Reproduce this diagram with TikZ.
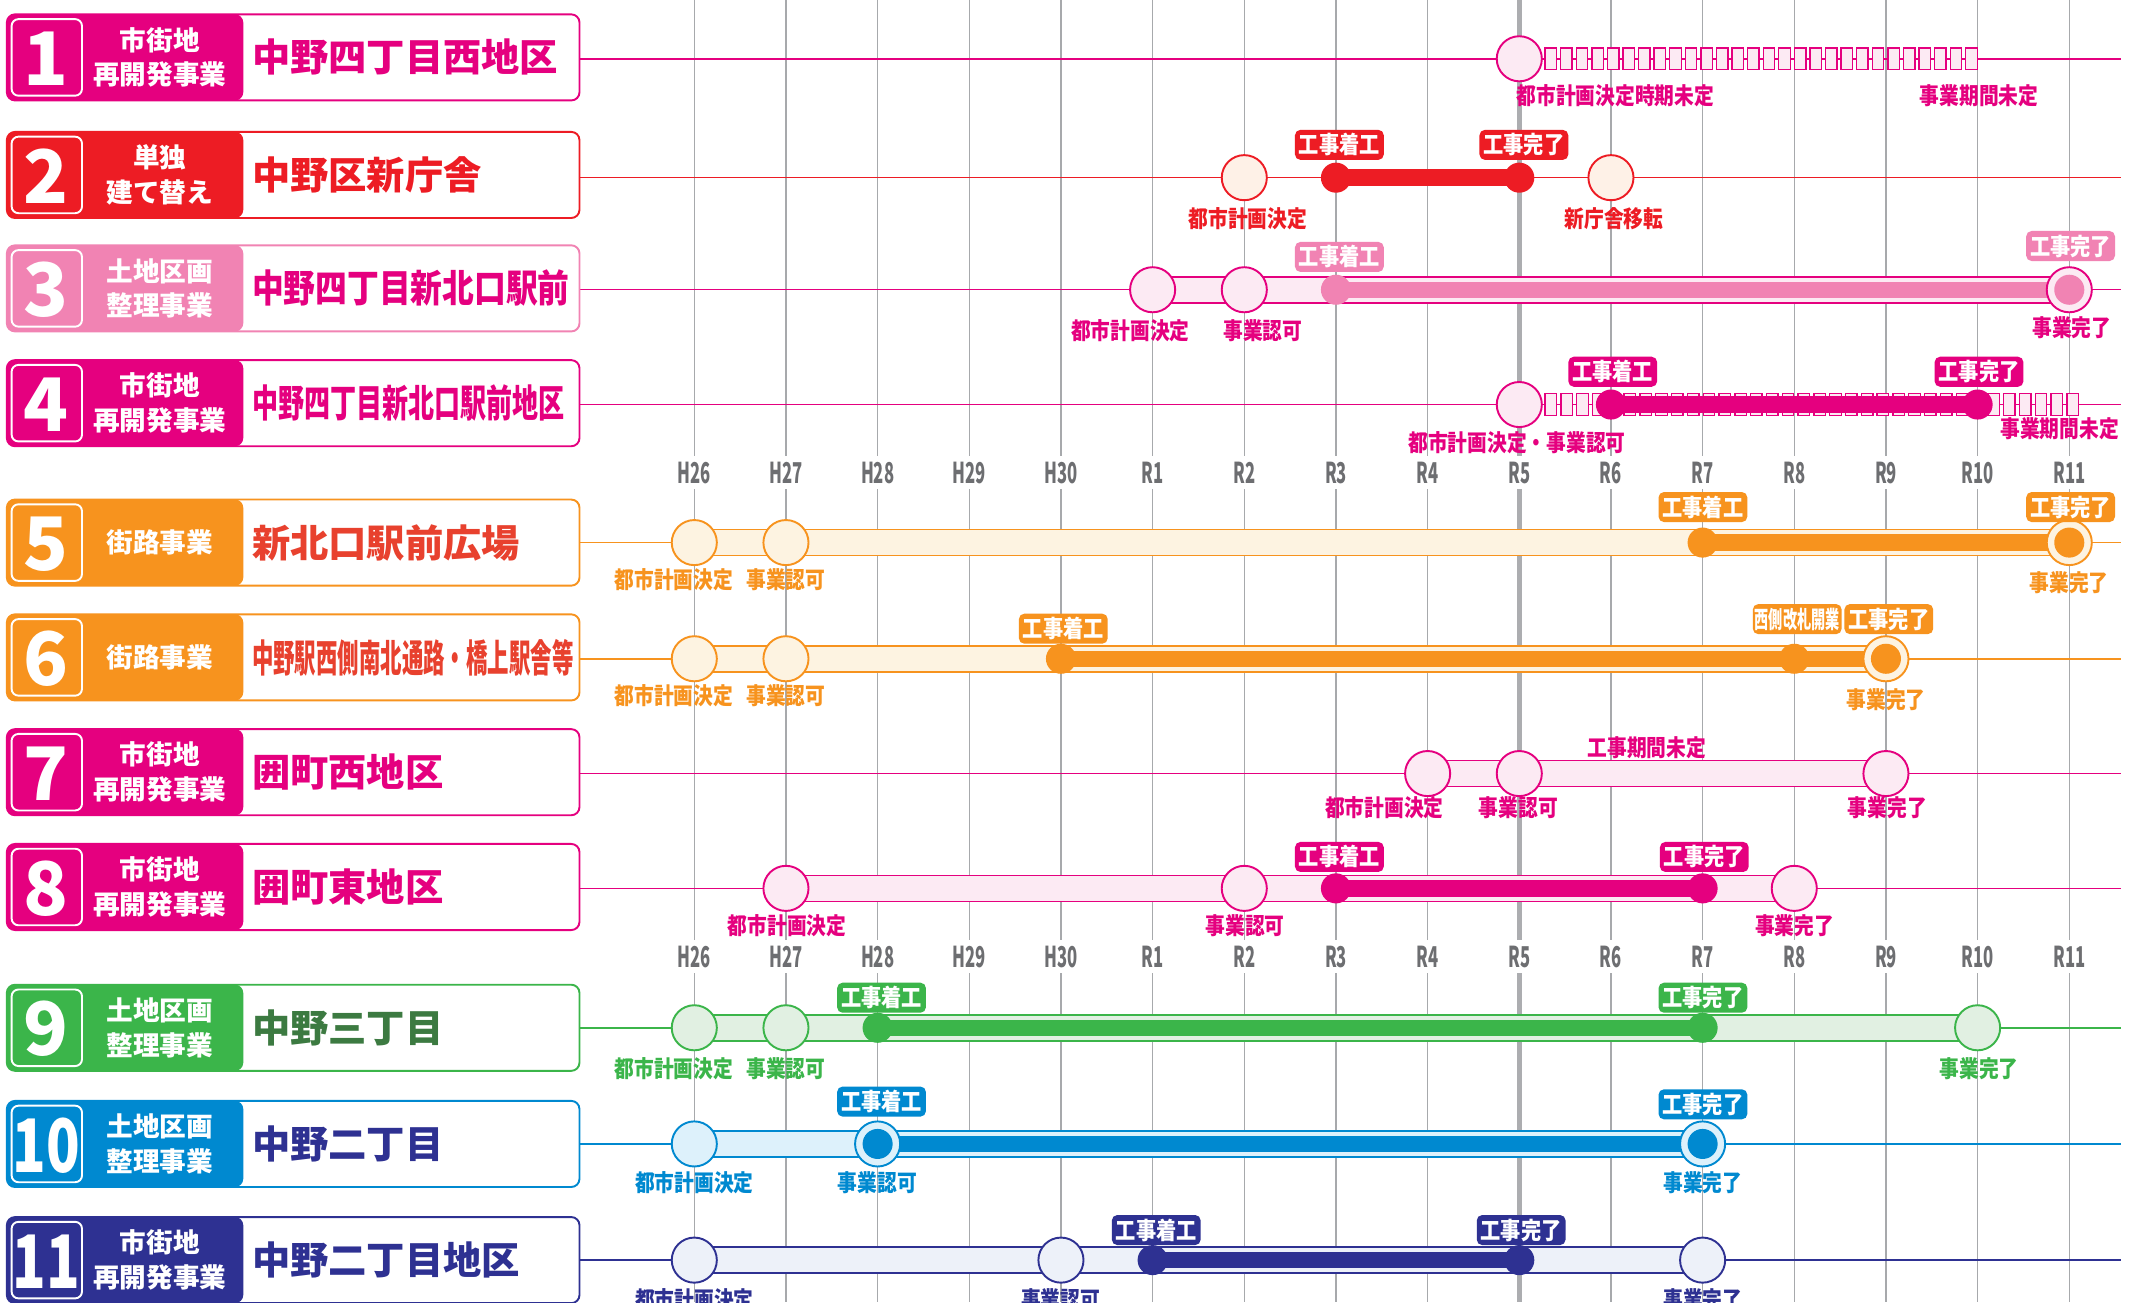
\documentclass[tikz,border=0pt]{standalone}
\usepackage{fontspec}
\setmainfont{Noto Sans CJK JP}
\newfontfamily\jpc{Noto Sans CJK JP}[FakeStretch=0.85]
\newfontfamily\axf{Noto Sans CJK JP}[FakeStretch=0.58]
\definecolor{mag}{HTML}{E5007F}
\definecolor{lmag}{HTML}{FCEAF3}
\definecolor{cred}{HTML}{ED1C24}
\definecolor{lred}{HTML}{FEF1E7}
\definecolor{cpink}{HTML}{F183B3}
\definecolor{cora}{HTML}{F7931E}
\definecolor{lora}{HTML}{FDF3E1}
\definecolor{ttred}{HTML}{E8412E}
\definecolor{cgrn}{HTML}{3BB54A}
\definecolor{lgrn}{HTML}{E1F0E2}
\definecolor{dgrn}{HTML}{3C7A41}
\definecolor{cblu}{HTML}{0089D0}
\definecolor{lblu}{HTML}{DDF1FB}
\definecolor{cnav}{HTML}{2E3192}
\definecolor{lnav}{HTML}{EDF1F9}
\definecolor{gridc}{HTML}{A7A9AC}
\definecolor{r5c}{HTML}{ACADB0}
\definecolor{axc}{HTML}{6D6E71}
\tikzset{
 ocirc/.style={circle, minimum size=16.5pt, inner sep=0pt, line width=0.7pt, draw},
 dotst/.style={circle, minimum size=11pt, inner sep=0pt},
 tagst/.style={rectangle, rounded corners=2pt, minimum width=32.5pt, minimum height=11pt, inner sep=0pt, text=white, font=\jpc\bfseries\fontsize{8.7}{9}\selectfont},
 lblst/.style={inner sep=0pt, font=\jpc\bfseries\fontsize{8.5}{9}\selectfont},
 axl/.style={inner sep=0pt, text=axc, font=\axf\bfseries\fontsize{10.5}{11}\selectfont},
 numtxt/.style={inner sep=0pt, text=white, font=\bfseries\fontsize{27}{27}\selectfont},
 cattxt/.style={inner sep=0pt, text=white, align=center, font=\bfseries\fontsize{9.75}{12.75}\selectfont},
 titletxt/.style={inner sep=0pt, anchor=west, font=\bfseries\fontsize{14}{16}\selectfont},
 rowline/.style={line width=0.55pt},
}
\newcommand\ya[1]{508+67.07*#1}
% left box: y, color, number, category, title, title colour, name
\newcommand\leftbox[7]{%
 \filldraw[draw=#2, fill=white, line width=0.7pt, rounded corners=3pt] (5,#1-31.5) rectangle (424,#1+31.5);
 \fill[#2, rounded corners=3pt] (5,#1-31.5) rectangle (178,#1+31.5);
 \draw[white, line width=0.7pt, rounded corners=2.5pt] (8.5,#1-28) rectangle (60,#1+28);
 \node[numtxt] (#7n) at (34,#1+1) {#3};
 \node[cattxt] (#7c) at (117,#1) {#4};
 \node[titletxt, text=#6] (#7t) at (184,#1) {#5};
}
\newcommand\lbar[5]{\filldraw[fill=#2,draw=#1,line width=0.6pt] ({\ya{#4}},#3-9.5) rectangle ({\ya{#5}},#3+9.5);}
\newcommand\dbar[4]{\fill[#1] ({\ya{#3}},#2-6) rectangle ({\ya{#4}},#2+6);}
\newcommand\oc[5]{\node[ocirc, draw=#1, fill=#2] (#5) at ({\ya{#4}},#3) {};}
\newcommand\dt[4]{\node[dotst, fill=#1] (#4) at ({\ya{#3}},#2) {};}
\newcommand\tg[5]{\node[tagst, fill=#1] (#5) at (#2,#3) {#4};}
\newcommand\lb[5]{\node[lblst, text=#1] (#5) at (#2,#3) {#4};}
\newcommand\chain[4]{\foreach \i in {1,...,#3} {\filldraw[fill=lmag, draw=mag, line width=0.5pt] ({#2+#4*(\i-1)},#1-8) rectangle ({#2+#4*(\i-1)+8.4},#1+8);}}
\begin{document}
\begin{tikzpicture}[x=0.5pt,y=-0.5pt]
\fill[white] (0,0) rectangle (1568,953);
\useasboundingbox (0,0) rectangle (1568,953);
\clip (0,0) rectangle (1568,953);
% grid
\foreach \k in {0,...,15} {
  \draw[gridc, line width=0.45pt] ({\ya{\k}},0) -- ({\ya{\k}},334);
  \draw[gridc, line width=0.45pt] ({\ya{\k}},358) -- ({\ya{\k}},688);
  \draw[gridc, line width=0.45pt] ({\ya{\k}},712) -- ({\ya{\k}},953);
}
\draw[r5c, line width=2pt] ({\ya{9}},0) -- ({\ya{9}},334);
\draw[r5c, line width=2pt] ({\ya{9}},358) -- ({\ya{9}},688);
\draw[r5c, line width=2pt] ({\ya{9}},712) -- ({\ya{9}},953);
\foreach \k/\t in {0/H26,1/H27,2/H28,3/H29,4/H30,5/R1,6/R2,7/R3,8/R4,9/R5,10/R6,11/R7,12/R8,13/R9,14/R10,15/R11} {
  \node[axl] (axa\k) at ({\ya{\k}},346) {\t};
  \node[axl] (axb\k) at ({\ya{\k}},700) {\t};
}
% row lines
\foreach \y/\c in {43/mag,130/cred,212/mag,296/mag,397/cora,482/cora,566/mag,650/mag,752/cgrn,837/cblu,922/cnav}
  \draw[\c, rowline] (424,\y) -- (1552,\y);
% left boxes
\leftbox{42}{mag}{1}{市街地\\再開発事業}{中野四丁目西地区}{mag}{b1}
\leftbox{128}{cred}{2}{単独\\建て替え}{中野区新庁舎}{cred}{b2}
\leftbox{211}{cpink}{3}{土地区画\\整理事業}{\scalebox{0.83}[1]{中野四丁目新北口駅前}}{mag}{b3}
\leftbox{295}{mag}{4}{市街地\\再開発事業}{\scalebox{0.68}[1]{中野四丁目新北口駅前地区}}{mag}{b4}
\leftbox{397}{cora}{5}{街路事業}{新北口駅前広場}{ttred}{b5}
\leftbox{481}{cora}{6}{街路事業}{\scalebox{0.56}[1]{中野駅西側南北通路・橋上駅舎等}}{ttred}{b6}
\leftbox{565}{mag}{7}{市街地\\再開発事業}{囲町西地区}{mag}{b7}
\leftbox{649}{mag}{8}{市街地\\再開発事業}{囲町東地区}{mag}{b8}
\leftbox{752}{cgrn}{9}{土地区画\\整理事業}{中野三丁目}{dgrn}{b9}
\leftbox{837}{cblu}{\scalebox{0.75}[1]{10}}{土地区画\\整理事業}{中野二丁目}{cnav}{b10}
\leftbox{922}{cnav}{\scalebox{0.75}[1]{11}}{市街地\\再開発事業}{中野二丁目地区}{cnav}{b11}
% row 1
\chain{43}{1130.5}{28}{11.4}
\oc{mag}{lmag}{43}{9}{r1a}
\lb{mag}{1182}{70}{都市計画決定時期未定}{r1l1}
\lb{mag}{1448}{70}{事業期間未定}{r1l2}
% row 2
\dbar{cred}{130}{7}{9}
\oc{cred}{lred}{130}{6}{r2a}
\oc{cred}{lred}{130}{10}{r2b}
\dt{cred}{130}{7}{r2c}
\dt{cred}{130}{9}{r2d}
\tg{cred}{980}{106}{工事着工}{r2t1}
\tg{cred}{1115}{106}{工事完了}{r2t2}
\lb{cred}{913}{160}{都市計画決定}{r2l1}
\lb{cred}{1181}{160}{新庁舎移転}{r2l2}
% row 3
\lbar{mag}{lmag}{212}{5}{15}
\dbar{cpink}{212}{7}{15}
\oc{mag}{lmag}{212}{5}{r3a}
\oc{mag}{lmag}{212}{6}{r3b}
\dt{cpink}{212}{7}{r3c}
\oc{mag}{lmag}{212}{15}{r3d}
\dt{cpink}{212}{15}{r3e}
\tg{cpink}{980}{188}{工事着工}{r3t1}
\tg{cpink}{1515}{180}{工事完了}{r3t2}
\lb{mag}{827}{242}{都市計画決定}{r3l1}
\lb{mag}{924}{242}{事業認可}{r3l2}
\lb{mag}{1516}{240}{事業完了}{r3l3}
% row 4
\chain{296}{1130.5}{34}{11.57}
\dbar{mag}{296}{10}{14}
\oc{mag}{lmag}{296}{9}{r4a}
\dt{mag}{296}{10}{r4b}
\dt{mag}{296}{14}{r4c}
\tg{mag}{1180}{272}{工事着工}{r4t1}
\tg{mag}{1448}{272}{工事完了}{r4t2}
\lb{mag}{1110}{324}{都市計画決定・事業認可}{r4l1}
\lb{mag}{1507}{314}{事業期間未定}{r4l2}
% row 5
\lbar{cora}{lora}{397}{0}{15}
\dbar{cora}{397}{11}{15}
\oc{cora}{lora}{397}{0}{r5a}
\oc{cora}{lora}{397}{1}{r5b}
\dt{cora}{397}{11}{r5c}
\oc{cora}{lora}{397}{15}{r5d}
\dt{cora}{397}{15}{r5e}
\tg{cora}{1246}{371}{工事着工}{r5t1}
\tg{cora}{1515}{371}{工事完了}{r5t2}
\lb{cora}{493}{424}{都市計画決定}{r5l1}
\lb{cora}{575}{424}{事業認可}{r5l2}
\lb{cora}{1514}{426}{事業完了}{r5l3}
% row 6
\lbar{cora}{lora}{482}{0}{13}
\dbar{cora}{482}{4}{13}
\oc{cora}{lora}{482}{0}{r6a}
\oc{cora}{lora}{482}{1}{r6b}
\dt{cora}{482}{4}{r6c}
\dt{cora}{482}{12}{r6d}
\oc{cora}{lora}{482}{13}{r6e}
\dt{cora}{482}{13}{r6f}
\tg{cora}{778}{460}{工事着工}{r6t1}
\tg{cora}{1315}{453}{\scalebox{0.7}[1]{西側改札開業}}{r6t2}
\tg{cora}{1382}{453}{工事完了}{r6t3}
\lb{cora}{493}{509}{都市計画決定}{r6l1}
\lb{cora}{575}{509}{事業認可}{r6l2}
\lb{cora}{1380}{512}{事業完了}{r6l3}
% row 7
\lbar{mag}{lmag}{566}{8}{13}
\oc{mag}{lmag}{566}{8}{r7a}
\oc{mag}{lmag}{566}{9}{r7b}
\oc{mag}{lmag}{566}{13}{r7c}
\lb{mag}{1205}{547}{工事期間未定}{r7l0}
\lb{mag}{1013}{591}{都市計画決定}{r7l1}
\lb{mag}{1111}{591}{事業認可}{r7l2}
\lb{mag}{1381}{591}{事業完了}{r7l3}
% row 8
\lbar{mag}{lmag}{650}{1}{12}
\dbar{mag}{650}{7}{11}
\oc{mag}{lmag}{650}{1}{r8a}
\oc{mag}{lmag}{650}{6}{r8b}
\oc{mag}{lmag}{650}{12}{r8c}
\dt{mag}{650}{7}{r8d}
\dt{mag}{650}{11}{r8e}
\tg{mag}{980}{627}{工事着工}{r8t1}
\tg{mag}{1247}{627}{工事完了}{r8t2}
\lb{mag}{576}{677}{都市計画決定}{r8l1}
\lb{mag}{911}{677}{事業認可}{r8l2}
\lb{mag}{1313}{677}{事業完了}{r8l3}
% row 9
\lbar{cgrn}{lgrn}{752}{0}{14}
\dbar{cgrn}{752}{2}{11}
\oc{cgrn}{lgrn}{752}{0}{r9a}
\oc{cgrn}{lgrn}{752}{1}{r9b}
\oc{cgrn}{lgrn}{752}{14}{r9c}
\dt{cgrn}{752}{2}{r9d}
\dt{cgrn}{752}{11}{r9e}
\tg{cgrn}{645}{730}{工事着工}{r9t1}
\tg{cgrn}{1246}{730}{工事完了}{r9t2}
\lb{cgrn}{493}{782}{都市計画決定}{r9l1}
\lb{cgrn}{575}{782}{事業認可}{r9l2}
\lb{cgrn}{1448}{782}{事業完了}{r9l3}
% row 10
\lbar{cblu}{lblu}{837}{0}{11}
\dbar{cblu}{837}{2}{11}
\oc{cblu}{lblu}{837}{0}{r10a}
\oc{cblu}{lblu}{837}{2}{r10b}
\dt{cblu}{837}{2}{r10c}
\oc{cblu}{lblu}{837}{11}{r10d}
\dt{cblu}{837}{11}{r10e}
\tg{cblu}{645}{806}{工事着工}{r10t1}
\tg{cblu}{1246}{808}{工事完了}{r10t2}
\lb{cblu}{508}{865}{都市計画決定}{r10l1}
\lb{cblu}{642}{865}{事業認可}{r10l2}
\lb{cblu}{1246}{865}{事業完了}{r10l3}
% row 11
\lbar{cnav}{lnav}{922}{0}{11}
\dbar{cnav}{922}{5}{9}
\oc{cnav}{lnav}{922}{0}{r11a}
\oc{cnav}{lnav}{922}{4}{r11b}
\oc{cnav}{lnav}{922}{11}{r11c}
\dt{cnav}{922}{5}{r11d}
\dt{cnav}{922}{9}{r11e}
\tg{cnav}{846}{900}{工事着工}{r11t1}
\tg{cnav}{1113}{900}{工事完了}{r11t2}
\lb{cnav}{508}{951}{都市計画決定}{r11l1}
\lb{cnav}{776}{951}{事業認可}{r11l2}
\lb{cnav}{1246}{951}{事業完了}{r11l3}
\end{tikzpicture}
\end{document}
